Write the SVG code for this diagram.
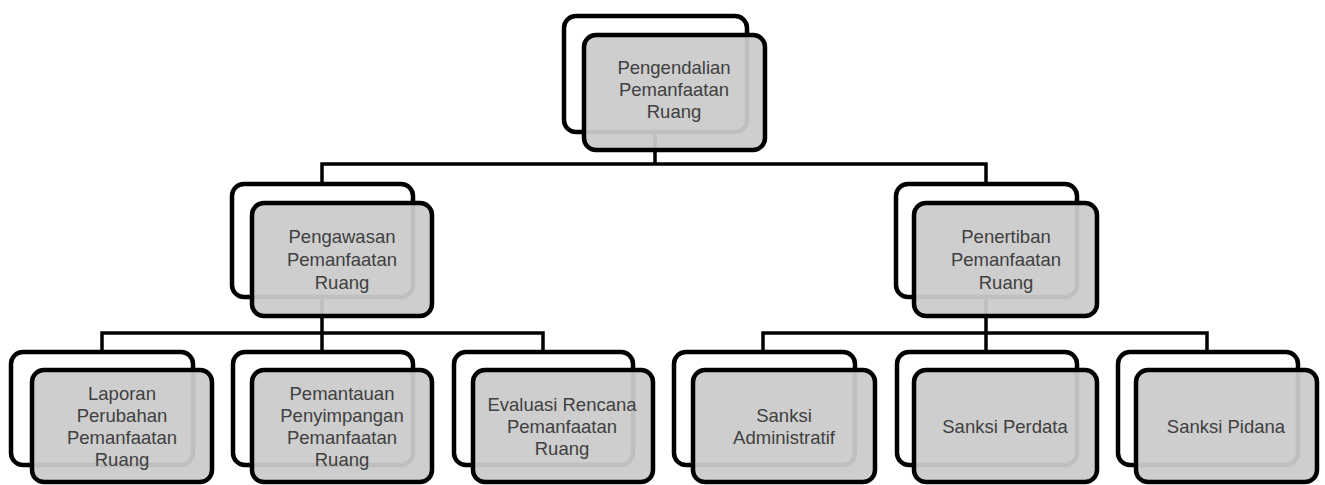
<svg xmlns="http://www.w3.org/2000/svg" width="1325" height="485" viewBox="0 0 1325 485">
<style>
.bk{fill:#ffffff;stroke:#000;stroke-width:4.5}
.fr{fill:#cbcbcb;fill-opacity:0.94;stroke:#000;stroke-width:4.5}
.cn{fill:none;stroke:#000;stroke-width:3.5}
.t{font-family:"Liberation Sans",Arial,sans-serif;font-size:18.5px;fill:#404040;text-anchor:middle}
</style>
<rect width="1325" height="485" fill="#fff"/>
<g id="connectors">
<path class="cn" d="M655,132V164M322,183V164H986V183"/>
<path class="cn" d="M322,297V333M102,352V333H543V352M322,333V352"/>
<path class="cn" d="M986,297V333M763,352V333H1207V352M986,333V352"/>
</g>
<g id="n-pengendalian">
<rect class="bk" x="564" y="16" width="183" height="116" rx="12"/>
<rect class="fr" x="584" y="35" width="181" height="115" rx="12"/>
<text class="t"><tspan x="674" y="74">Pengendalian</tspan><tspan x="674" y="96">Pemanfaatan</tspan><tspan x="674" y="118">Ruang</tspan></text>
</g>
<g id="n-pengawasan">
<rect class="bk" x="232" y="184" width="181" height="113" rx="12"/>
<rect class="fr" x="252" y="203" width="180" height="113" rx="12"/>
<text class="t"><tspan x="342" y="243">Pengawasan</tspan><tspan x="342" y="266">Pemanfaatan</tspan><tspan x="342" y="289">Ruang</tspan></text>
</g>
<g id="n-penertiban">
<rect class="bk" x="896" y="184" width="181" height="113" rx="12"/>
<rect class="fr" x="914" y="203" width="183" height="113" rx="12"/>
<text class="t"><tspan x="1006" y="243">Penertiban</tspan><tspan x="1006" y="266">Pemanfaatan</tspan><tspan x="1006" y="289">Ruang</tspan></text>
</g>
<g id="n-laporan">
<rect class="bk" x="11" y="352" width="182" height="113" rx="12"/>
<rect class="fr" x="32" y="370" width="180" height="112" rx="12"/>
<text class="t"><tspan x="122" y="400">Laporan</tspan><tspan x="122" y="422">Perubahan</tspan><tspan x="122" y="444">Pemanfaatan</tspan><tspan x="122" y="466">Ruang</tspan></text>
</g>
<g id="n-pemantauan">
<rect class="bk" x="233" y="352" width="180" height="113" rx="12"/>
<rect class="fr" x="252" y="370" width="180" height="112" rx="12"/>
<text class="t"><tspan x="342" y="400">Pemantauan</tspan><tspan x="342" y="422">Penyimpangan</tspan><tspan x="342" y="444">Pemanfaatan</tspan><tspan x="342" y="466">Ruang</tspan></text>
</g>
<g id="n-evaluasi">
<rect class="bk" x="454" y="352" width="179" height="113" rx="12"/>
<rect class="fr" x="473" y="370" width="180" height="112" rx="12"/>
<text class="t"><tspan x="562" y="411">Evaluasi Rencana</tspan><tspan x="562" y="433">Pemanfaatan</tspan><tspan x="562" y="455">Ruang</tspan></text>
</g>
<g id="n-administratif">
<rect class="bk" x="674" y="352" width="181" height="113" rx="12"/>
<rect class="fr" x="693" y="370" width="182" height="112" rx="12"/>
<text class="t"><tspan x="784" y="422">Sanksi</tspan><tspan x="784" y="444">Administratif</tspan></text>
</g>
<g id="n-perdata">
<rect class="bk" x="897" y="352" width="180" height="113" rx="12"/>
<rect class="fr" x="914" y="370" width="183" height="112" rx="12"/>
<text class="t"><tspan x="1005" y="433">Sanksi Perdata</tspan></text>
</g>
<g id="n-pidana">
<rect class="bk" x="1118" y="352" width="180" height="113" rx="12"/>
<rect class="fr" x="1136" y="370" width="181" height="112" rx="12"/>
<text class="t"><tspan x="1226" y="433">Sanksi Pidana</tspan></text>
</g>
</svg>
